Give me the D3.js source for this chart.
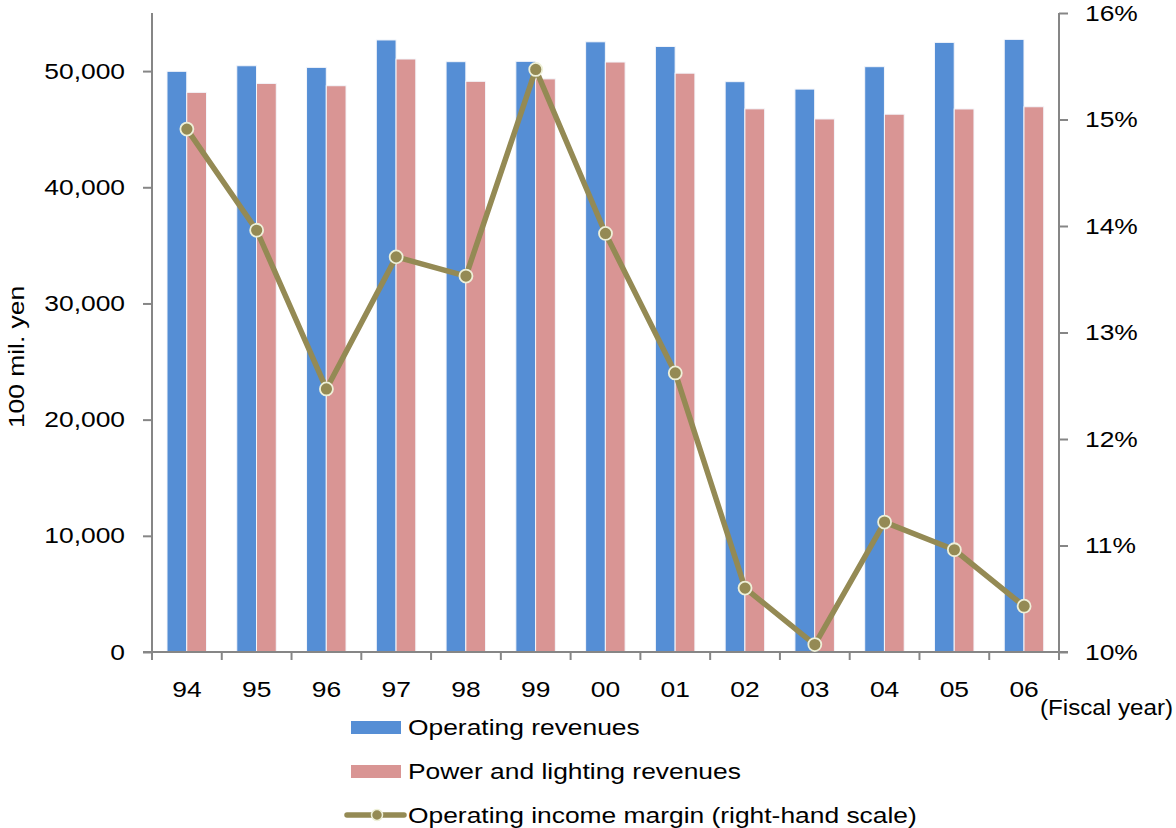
<!DOCTYPE html>
<html>
<head>
<meta charset="utf-8">
<script src="https://cdn.jsdelivr.net/npm/d3@7"></script>
<style>
  html, body { margin: 0; padding: 0; background: #fff; }
  svg { display: block; font-family: "Liberation Sans", Arial, sans-serif; }
</style>
</head>
<body>
<svg id="chart" width="1176" height="828"></svg>
<script>
const years = ["94","95","96","97","98","99","00","01","02","03","04","05","06"];
const operatingRevenues = [49980, 50460, 50320, 52680, 50810, 50840, 52520, 52120, 49090, 48450, 50380, 52470, 52730];
const powerLightingRevenues = [48170, 48940, 48740, 51040, 49120, 49330, 50780, 49820, 46750, 45880, 46290, 46740, 46930];
const operatingMargin = [14.91, 13.96, 12.47, 13.71, 13.53, 15.47, 13.93, 12.62, 10.60, 10.07, 11.22, 10.96, 10.43];
const leftTicks = [0, 10000, 20000, 30000, 40000, 50000];
const rightTicks = [10, 11, 12, 13, 14, 15, 16];
const seriesNames = ["Operating revenues", "Power and lighting revenues", "Operating income margin (right-hand scale)"];

const colors = { blue: "#558ED5", pink: "#D99594", line: "#948A54", axis: "#868686" };
const FS = 22, SX = 1.2;

const svg = d3.select("#chart");
const L = 152, R = 1059, T = 13, B = 652;

// horizontally stretch text around its anchor point
function stretch(sel, sx = SX) {
  sel.each(function() {
    const t = d3.select(this);
    const x = +t.attr("x") || 0, y = +t.attr("y") || 0;
    const prev = t.attr("transform") || "";
    t.attr("x", 0).attr("y", 0)
      .attr("transform", `${prev} translate(${x},${y}) scale(${sx},1)`);
  });
}

const x0 = d3.scaleBand().domain(years).range([L, R]).padding(0);
const x1 = d3.scaleBand().domain([0, 1]).range([15, 54.5]);
const yL = d3.scaleLinear().domain([0, 55000]).range([B, T]);
const yR = d3.scaleLinear().domain([10, 16]).range([B, T]);

// Bars
const barSeries = [operatingRevenues, powerLightingRevenues];
const barColors = [colors.blue, colors.pink];
barSeries.forEach((vals, si) => {
  svg.append("g").selectAll("rect").data(vals).join("rect")
    .attr("x", (d, i) => x0(years[i]) + x1(si))
    .attr("y", d => yL(d))
    .attr("width", x1.bandwidth())
    .attr("height", d => B - yL(d))
    .attr("fill", barColors[si])
    .attr("stroke", "#f4f6fb")
    .attr("stroke-width", 1);
});

// Axes
const fmt = d3.format(",");
const leftAxis = svg.append("g").attr("transform", `translate(${L},0)`)
  .call(d3.axisLeft(yL).tickValues(leftTicks).tickFormat(fmt).tickSize(9).tickPadding(18));
const rightAxis = svg.append("g").attr("transform", `translate(${R},0)`)
  .call(d3.axisRight(yR).tickValues(rightTicks).tickFormat(d => d + "%").tickSize(9).tickPadding(17));
[leftAxis, rightAxis].forEach(g => {
  g.select(".domain").attr("stroke", colors.axis).attr("stroke-width", 2).attr("d", `M0,${T}V${B}`);
  g.selectAll(".tick line").attr("stroke", colors.axis).attr("stroke-width", 2);
  g.selectAll(".tick text").attr("font-size", FS).attr("fill", "#000").call(stretch);
});

// X axis
const xg = svg.append("g").attr("transform", `translate(0,${B})`);
xg.append("line").attr("x1", L - 9).attr("x2", R + 9).attr("y1", 0).attr("y2", 0)
  .attr("stroke", colors.axis).attr("stroke-width", 2);
const boundaries = years.map(y => x0(y)).concat([R]);
xg.selectAll("line.tk").data(boundaries).join("line").attr("class", "tk")
  .attr("x1", d => d).attr("x2", d => d).attr("y1", 0).attr("y2", 8)
  .attr("stroke", colors.axis).attr("stroke-width", 2);
xg.selectAll("text").data(years).join("text")
  .attr("x", d => x0(d) + x0.bandwidth() / 2)
  .attr("y", 45)
  .attr("text-anchor", "middle")
  .attr("font-size", FS)
  .text(d => d)
  .call(stretch);

svg.append("text").attr("x", 1173).attr("y", 715).attr("text-anchor", "end")
  .attr("font-size", FS).text("(Fiscal year)").call(stretch, 1.1);

svg.append("text").attr("transform", `translate(24,357) rotate(-90)`)
  .attr("text-anchor", "middle").attr("font-size", FS).text("100 mil. yen").call(stretch);

// Line
const cx = i => x0(years[i]) + x0.bandwidth() / 2;
const line = d3.line().x((d, i) => cx(i)).y(d => yR(d));
svg.append("path").datum(operatingMargin)
  .attr("d", line).attr("fill", "none").attr("stroke", colors.line)
  .attr("stroke-width", 5.5).attr("stroke-linejoin", "round");
svg.append("g").selectAll("circle").data(operatingMargin).join("circle")
  .attr("cx", (d, i) => cx(i)).attr("cy", d => yR(d)).attr("r", 6.5)
  .attr("fill", colors.line).attr("stroke", "#EEF0D8").attr("stroke-width", 1.8);

// Legend
const lg = svg.append("g");
const rows = [727, 771, 815];
lg.append("rect").attr("x", 351).attr("y", rows[0] - 6).attr("width", 50).attr("height", 13).attr("fill", colors.blue);
lg.append("rect").attr("x", 351).attr("y", rows[1] - 6).attr("width", 50).attr("height", 13).attr("fill", colors.pink);
lg.append("line").attr("x1", 347).attr("x2", 404).attr("y1", rows[2]).attr("y2", rows[2])
  .attr("stroke", colors.line).attr("stroke-width", 5.5).attr("stroke-linecap", "round");
lg.append("circle").attr("cx", 377).attr("cy", rows[2]).attr("r", 5.5)
  .attr("fill", colors.line).attr("stroke", "#EEF0D8").attr("stroke-width", 1.5);
seriesNames.forEach((n, i) => {
  lg.append("text").attr("x", 408).attr("y", rows[i] + 8).attr("font-size", FS).text(n).call(stretch);
});
</script>
</body>
</html>
